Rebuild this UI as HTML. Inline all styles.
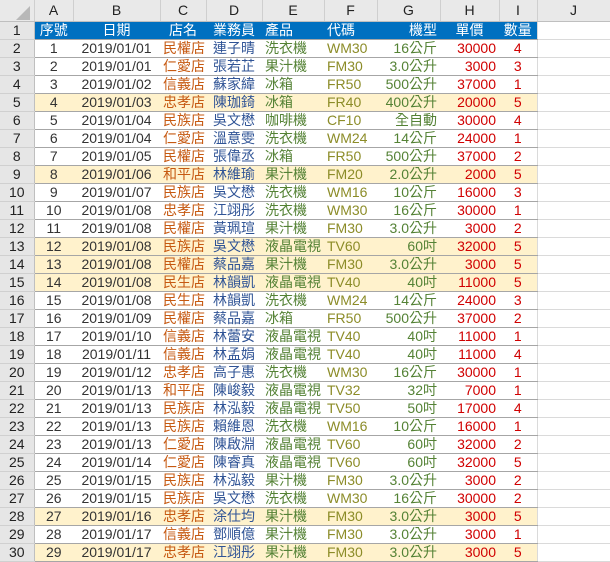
<!DOCTYPE html>
<html><head><meta charset="utf-8"><style>
body{margin:0;width:610px;height:562px;overflow:hidden;background:#fff;font-family:"Liberation Sans","Noto Sans CJK TC",sans-serif;font-size:14px}
table{border-collapse:collapse;table-layout:fixed;position:absolute;left:0;top:0;width:610px}
td{height:17px;padding:0 3px;border-bottom:1px solid #a6a6a6;white-space:nowrap;overflow:hidden;line-height:17px}
td.r{background:#e6e6e6;color:#222;text-align:center;border-right:1px solid #bfbfbf;border-bottom:1px solid #d0d0d0}
td.j{border-bottom:1px solid #dadada;border-left:1px solid #dadada}
tr.h td{height:21px;background:#e9e9e9;text-align:center;color:#222;border-bottom:1px solid #bfbfbf;border-right:1px solid #cfcfcf;line-height:21px}
tr.t td{background:#0070c0;color:#fff}
tr.t td.r,tr.t td.j{background:#e6e6e6;color:#222}
tr.t td.j{background:#fff}
tr.y td{background:#fff2cc}
tr.y td.r{background:#e6e6e6}tr.y td.j{background:#fff}
td:nth-child(2),td:nth-child(3),td:nth-child(4),td:nth-child(5),td:nth-child(10){text-align:center}
td:nth-child(8),td:nth-child(9){text-align:right}
td:nth-child(4){color:#c65911}td:nth-child(5){color:#305496}td:nth-child(6){color:#548235}td:nth-child(7){color:#8c8c28}td:nth-child(8){color:#548235}td:nth-child(9),td:nth-child(10){color:#d00000}
td:nth-child(2),td:nth-child(3){color:#333}
tr.t td:nth-child(n){color:#fff}tr.t td.r{color:#222}
tr.t td:nth-child(9){text-align:center}
</style></head><body>
<table>
<colgroup><col style="width:34px"><col style="width:39px"><col style="width:87px"><col style="width:46px"><col style="width:56px"><col style="width:62px"><col style="width:53px"><col style="width:63px"><col style="width:59px"><col style="width:38px"><col style="width:73px"></colgroup>
<tr class="h"><td style="background:#e9e9e9"><svg width="14" height="14" style="position:absolute;left:16px;top:6px"><polygon points="14,0 14,14 0,14" fill="#b8b8b8"/></svg></td><td>A</td><td>B</td><td>C</td><td>D</td><td>E</td><td>F</td><td>G</td><td>H</td><td>I</td><td>J</td></tr>
<tr class="t"><td class="r">1</td><td>序號</td><td>日期</td><td>店名</td><td>業務員</td><td>產品</td><td>代碼</td><td>機型</td><td>單價</td><td>數量</td><td class="j"></td></tr>
<tr><td class="r">2</td><td>1</td><td>2019/01/01</td><td>民權店</td><td>連子晴</td><td>洗衣機</td><td>WM30</td><td>16公斤</td><td>30000</td><td>4</td><td class="j"></td></tr>
<tr><td class="r">3</td><td>2</td><td>2019/01/01</td><td>仁愛店</td><td>張若芷</td><td>果汁機</td><td>FM30</td><td>3.0公升</td><td>3000</td><td>3</td><td class="j"></td></tr>
<tr><td class="r">4</td><td>3</td><td>2019/01/02</td><td>信義店</td><td>蘇家緯</td><td>冰箱</td><td>FR50</td><td>500公升</td><td>37000</td><td>1</td><td class="j"></td></tr>
<tr class="y"><td class="r">5</td><td>4</td><td>2019/01/03</td><td>忠孝店</td><td>陳珈錡</td><td>冰箱</td><td>FR40</td><td>400公升</td><td>20000</td><td>5</td><td class="j"></td></tr>
<tr><td class="r">6</td><td>5</td><td>2019/01/04</td><td>民族店</td><td>吳文懋</td><td>咖啡機</td><td>CF10</td><td>全自動</td><td>30000</td><td>4</td><td class="j"></td></tr>
<tr><td class="r">7</td><td>6</td><td>2019/01/04</td><td>仁愛店</td><td>溫意雯</td><td>洗衣機</td><td>WM24</td><td>14公斤</td><td>24000</td><td>1</td><td class="j"></td></tr>
<tr><td class="r">8</td><td>7</td><td>2019/01/05</td><td>民權店</td><td>張偉丞</td><td>冰箱</td><td>FR50</td><td>500公升</td><td>37000</td><td>2</td><td class="j"></td></tr>
<tr class="y"><td class="r">9</td><td>8</td><td>2019/01/06</td><td>和平店</td><td>林維瑜</td><td>果汁機</td><td>FM20</td><td>2.0公升</td><td>2000</td><td>5</td><td class="j"></td></tr>
<tr><td class="r">10</td><td>9</td><td>2019/01/07</td><td>民族店</td><td>吳文懋</td><td>洗衣機</td><td>WM16</td><td>10公斤</td><td>16000</td><td>3</td><td class="j"></td></tr>
<tr><td class="r">11</td><td>10</td><td>2019/01/08</td><td>忠孝店</td><td>江翊彤</td><td>洗衣機</td><td>WM30</td><td>16公斤</td><td>30000</td><td>1</td><td class="j"></td></tr>
<tr><td class="r">12</td><td>11</td><td>2019/01/08</td><td>民權店</td><td>黃珮瑄</td><td>果汁機</td><td>FM30</td><td>3.0公升</td><td>3000</td><td>2</td><td class="j"></td></tr>
<tr class="y"><td class="r">13</td><td>12</td><td>2019/01/08</td><td>民族店</td><td>吳文懋</td><td>液晶電視</td><td>TV60</td><td>60吋</td><td>32000</td><td>5</td><td class="j"></td></tr>
<tr class="y"><td class="r">14</td><td>13</td><td>2019/01/08</td><td>民權店</td><td>蔡品嘉</td><td>果汁機</td><td>FM30</td><td>3.0公升</td><td>3000</td><td>5</td><td class="j"></td></tr>
<tr class="y"><td class="r">15</td><td>14</td><td>2019/01/08</td><td>民生店</td><td>林韻凱</td><td>液晶電視</td><td>TV40</td><td>40吋</td><td>11000</td><td>5</td><td class="j"></td></tr>
<tr><td class="r">16</td><td>15</td><td>2019/01/08</td><td>民生店</td><td>林韻凱</td><td>洗衣機</td><td>WM24</td><td>14公斤</td><td>24000</td><td>3</td><td class="j"></td></tr>
<tr><td class="r">17</td><td>16</td><td>2019/01/09</td><td>民權店</td><td>蔡品嘉</td><td>冰箱</td><td>FR50</td><td>500公升</td><td>37000</td><td>2</td><td class="j"></td></tr>
<tr><td class="r">18</td><td>17</td><td>2019/01/10</td><td>信義店</td><td>林蕾安</td><td>液晶電視</td><td>TV40</td><td>40吋</td><td>11000</td><td>1</td><td class="j"></td></tr>
<tr><td class="r">19</td><td>18</td><td>2019/01/11</td><td>信義店</td><td>林孟娟</td><td>液晶電視</td><td>TV40</td><td>40吋</td><td>11000</td><td>4</td><td class="j"></td></tr>
<tr><td class="r">20</td><td>19</td><td>2019/01/12</td><td>忠孝店</td><td>高子惠</td><td>洗衣機</td><td>WM30</td><td>16公斤</td><td>30000</td><td>1</td><td class="j"></td></tr>
<tr><td class="r">21</td><td>20</td><td>2019/01/13</td><td>和平店</td><td>陳峻毅</td><td>液晶電視</td><td>TV32</td><td>32吋</td><td>7000</td><td>1</td><td class="j"></td></tr>
<tr><td class="r">22</td><td>21</td><td>2019/01/13</td><td>民族店</td><td>林泓毅</td><td>液晶電視</td><td>TV50</td><td>50吋</td><td>17000</td><td>4</td><td class="j"></td></tr>
<tr><td class="r">23</td><td>22</td><td>2019/01/13</td><td>民族店</td><td>賴維恩</td><td>洗衣機</td><td>WM16</td><td>10公斤</td><td>16000</td><td>1</td><td class="j"></td></tr>
<tr><td class="r">24</td><td>23</td><td>2019/01/13</td><td>仁愛店</td><td>陳啟淵</td><td>液晶電視</td><td>TV60</td><td>60吋</td><td>32000</td><td>2</td><td class="j"></td></tr>
<tr><td class="r">25</td><td>24</td><td>2019/01/14</td><td>仁愛店</td><td>陳睿真</td><td>液晶電視</td><td>TV60</td><td>60吋</td><td>32000</td><td>5</td><td class="j"></td></tr>
<tr><td class="r">26</td><td>25</td><td>2019/01/15</td><td>民族店</td><td>林泓毅</td><td>果汁機</td><td>FM30</td><td>3.0公升</td><td>3000</td><td>2</td><td class="j"></td></tr>
<tr><td class="r">27</td><td>26</td><td>2019/01/15</td><td>民族店</td><td>吳文懋</td><td>洗衣機</td><td>WM30</td><td>16公斤</td><td>30000</td><td>2</td><td class="j"></td></tr>
<tr class="y"><td class="r">28</td><td>27</td><td>2019/01/16</td><td>忠孝店</td><td>涂仕均</td><td>果汁機</td><td>FM30</td><td>3.0公升</td><td>3000</td><td>5</td><td class="j"></td></tr>
<tr><td class="r">29</td><td>28</td><td>2019/01/17</td><td>信義店</td><td>鄧順億</td><td>果汁機</td><td>FM30</td><td>3.0公升</td><td>3000</td><td>1</td><td class="j"></td></tr>
<tr class="y"><td class="r">30</td><td>29</td><td>2019/01/17</td><td>忠孝店</td><td>江翊彤</td><td>果汁機</td><td>FM30</td><td>3.0公升</td><td>3000</td><td>5</td><td class="j"></td></tr>
</table>
</body></html>
